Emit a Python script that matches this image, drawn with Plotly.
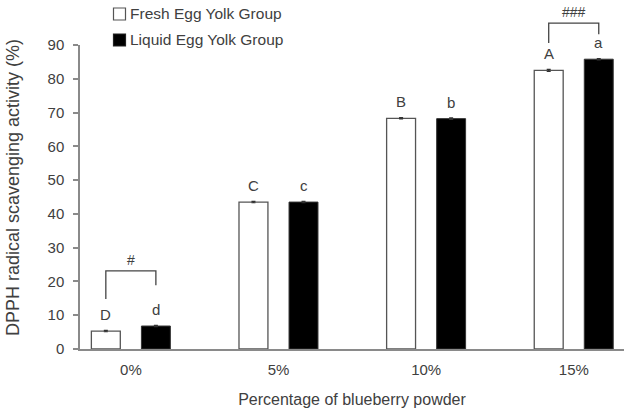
import plotly.graph_objects as go

categories = ["0%", "5%", "10%", "15%"]
series_names = ["Fresh Egg Yolk Group", "Liquid Egg Yolk Group"]
fresh = [5.3, 43.5, 68.3, 82.5]
liquid = [6.8, 43.5, 68.2, 85.8]
fresh_err = [0.2, 0.2, 0.2, 0.3]
liquid_err = [0.2, 0.2, 0.2, 0.2]
fresh_letters = ["D", "C", "B", "A"]
liquid_letters = ["d", "c", "b", "a"]
y_ticks = [0, 10, 20, 30, 40, 50, 60, 70, 80, 90]
# significance brackets
bracket_cat = [0, 3]
bracket_top = [23.1, 96.5]
bracket_left_end = [14.8, 90.6]
bracket_right_end = [18.9, 93.2]
bracket_label = ["#", "###"]

Y_MAX = 90
xpos = list(range(len(categories)))
W = 0.196
OFF_F = -0.268
OFF_L = 0.071
FONT = "Liberation Sans, Arial, sans-serif"
TXT = "#404040"
AX = "#8a8a8a"
ML, MR, MT, MB = 80, 9, 45, 59
FW, FH = 633, 408
PW, PH = FW - ML - MR, FH - MT - MB


def px_x(p):
    return (p - ML) / PW


def px_y(p):
    return (FH - MB - p) / PH


fig = go.Figure()
fig.add_trace(go.Bar(
    x=xpos, y=fresh, name=series_names[0], width=W, offset=OFF_F,
    marker=dict(color="white", line=dict(color="#555555", width=1.3)),
    error_y=dict(type="data", array=fresh_err, color="#333333", thickness=1.2, width=2),
    cliponaxis=False, showlegend=False,
))
fig.add_trace(go.Bar(
    x=xpos, y=liquid, name=series_names[1], width=W, offset=OFF_L,
    marker=dict(color="black", line=dict(color="#333333", width=1)),
    error_y=dict(type="data", array=liquid_err, color="#333333", thickness=1.2, width=2),
    cliponaxis=False, showlegend=False,
))

annotations = []
shapes = []
for i in xpos:
    annotations.append(dict(x=i + OFF_F + W / 2, y=fresh[i], text=fresh_letters[i], showarrow=False,
                            yanchor="bottom", yshift=6, font=dict(size=15, color=TXT, family=FONT)))
    annotations.append(dict(x=i + OFF_L + W / 2, y=liquid[i], text=liquid_letters[i], showarrow=False,
                            yanchor="bottom", yshift=6, font=dict(size=15, color=TXT, family=FONT)))

for k, ci in enumerate(bracket_cat):
    xl = ci + OFF_F + W / 2
    xr = ci + OFF_L + W / 2
    yt = bracket_top[k] / Y_MAX
    yl = bracket_left_end[k] / Y_MAX
    yr = bracket_right_end[k] / Y_MAX
    shapes.append(dict(type="path", xref="x", yref="paper",
                       path=f"M {xl},{yl} L {xl},{yt} L {xr},{yt} L {xr},{yr}",
                       line=dict(color="#444444", width=1.3)))
    annotations.append(dict(x=(xl + xr) / 2, y=yt, xref="x", yref="paper", text=bracket_label[k],
                            showarrow=False, yanchor="bottom", yshift=1,
                            font=dict(size=14, color=TXT, family=FONT)))

# legend (drawn manually to match spacing)
legend_fill = ["white", "black"]
legend_line = ["#555555", "#222222"]
legend_cy = [14, 40]
for k, name in enumerate(series_names):
    cy = legend_cy[k]
    shapes.append(dict(type="rect", xref="paper", yref="paper",
                       x0=px_x(113.5), x1=px_x(125.5), y0=px_y(cy + 6), y1=px_y(cy - 6),
                       fillcolor=legend_fill[k], line=dict(color=legend_line[k], width=1.2)))
    annotations.append(dict(x=px_x(128), y=px_y(cy), xref="paper", yref="paper", text=name,
                            showarrow=False, xanchor="left", yanchor="middle",
                            font=dict(size=15.5, color=TXT, family=FONT)))

# y-axis title
annotations.append(dict(x=px_x(13), y=px_y(188), xref="paper", yref="paper",
                        text="DPPH radical scavenging activity (%)", textangle=-90, showarrow=False,
                        xanchor="center", yanchor="middle", font=dict(size=18, color=TXT, family=FONT)))

fig.update_layout(
    width=FW, height=FH,
    margin=dict(l=ML, r=MR, t=MT, b=MB),
    plot_bgcolor="white", paper_bgcolor="white",
    font=dict(family=FONT, size=15, color=TXT),
    showlegend=False,
    annotations=annotations,
    shapes=shapes,
)
fig.update_xaxes(
    range=[-0.345, 3.34], tickvals=xpos, ticktext=categories, showgrid=False, zeroline=False,
    showline=True, linecolor=AX, linewidth=1.5, ticks="", ticklabelstandoff=6, automargin=False,
    tickfont=dict(size=15, color=TXT, family=FONT),
    title=dict(text="Percentage of blueberry powder", standoff=17, font=dict(size=16, color=TXT, family=FONT)),
)
fig.update_yaxes(
    range=[0, Y_MAX], tickvals=y_ticks, showgrid=False, zeroline=False, automargin=False,
    showline=True, linecolor=AX, linewidth=1.5, ticks="outside", ticklen=5, tickcolor=AX, tickwidth=1.5,
    ticklabelstandoff=6, tickfont=dict(size=15, color=TXT, family=FONT),
)

fig.write_html("out.html")
